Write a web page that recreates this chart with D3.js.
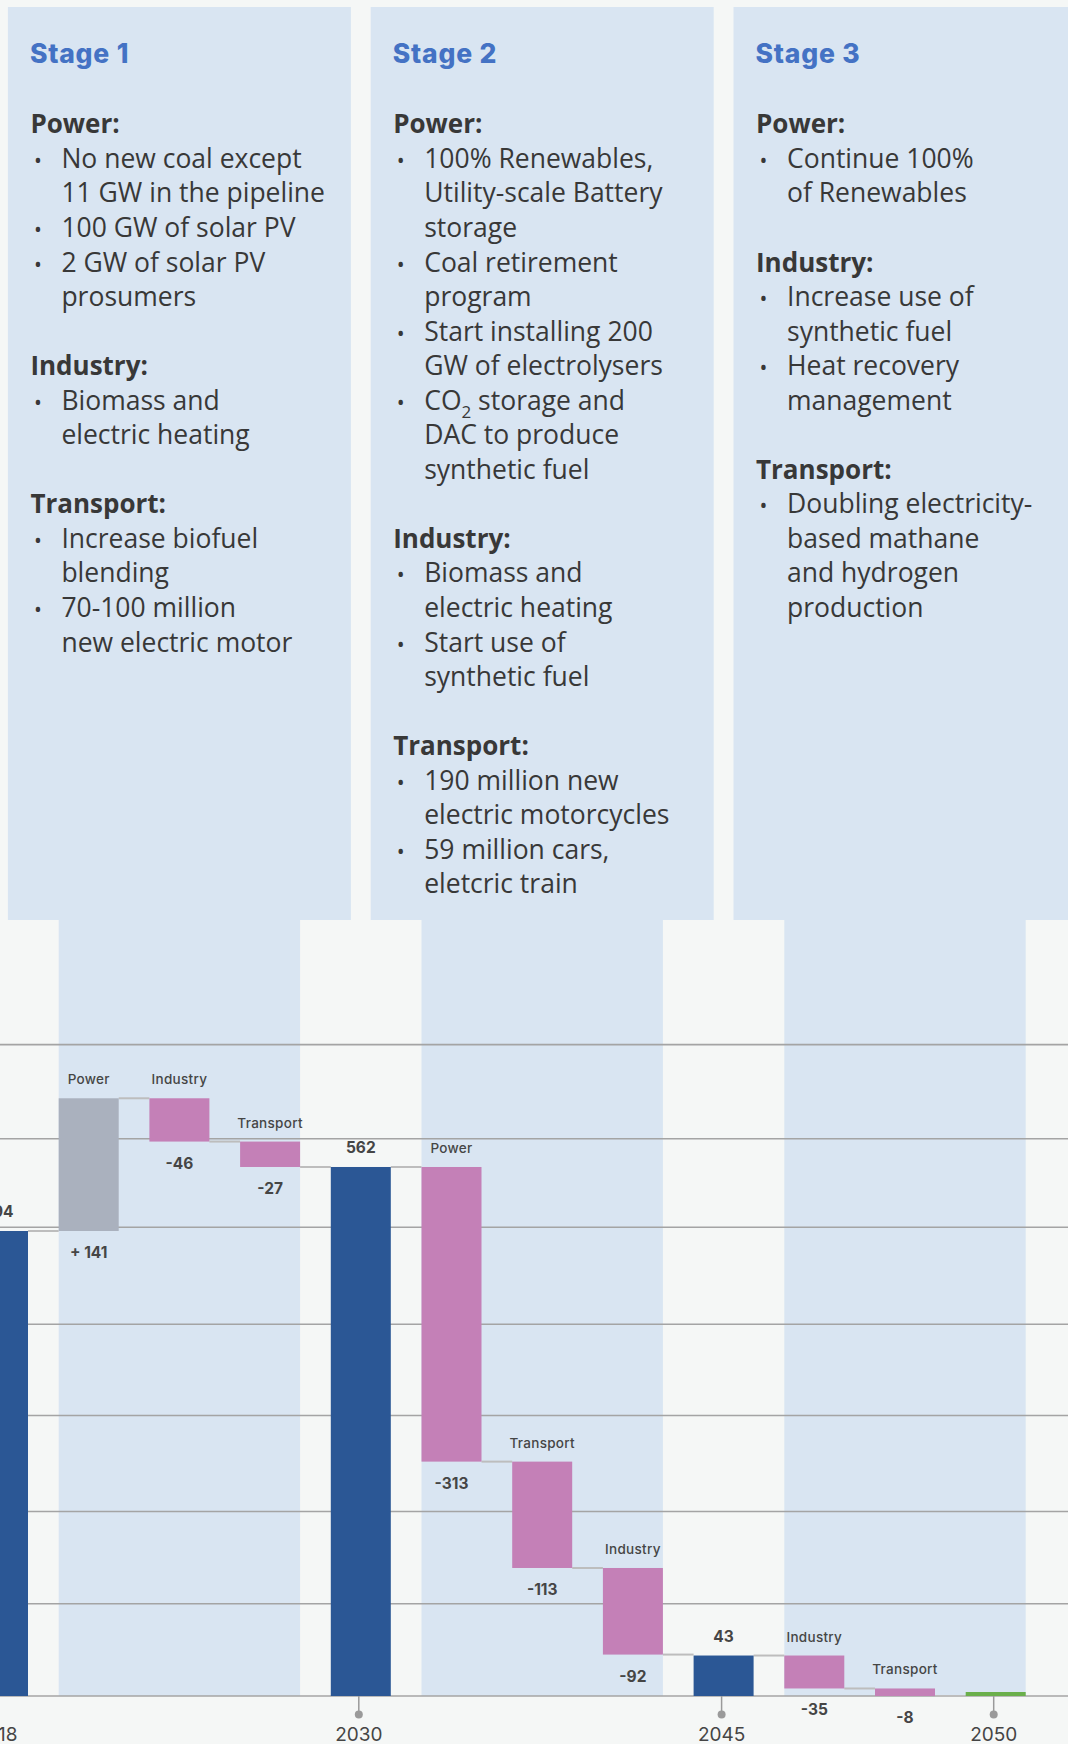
<!DOCTYPE html>
<html><head><meta charset="utf-8">
<script src="https://cdn.jsdelivr.net/npm/d3@7"></script>
<style>
html,body{margin:0;padding:0;background:#f5f7f6;}
svg{display:block;}
</style></head><body>
<svg id="chart" width="1068" height="1744"></svg>
<script>
// ---------- DATA ----------
const stepIds     = ["2018","P1","I1","T1","2030","P2","T2","I2","2045","I3","T3","2050"];
const stepLabels  = ["2018","Power","Industry","Transport","2030","Power","Transport","Industry","2045","Industry","Transport","2050"];
const stepValues  = [494, 141, -46, -27, 562, -313, -113, -92, 43, -35, -8, 0];
const stepKinds   = ["total","delta","delta","delta","total","delta","delta","delta","total","delta","delta","total"];
const valueLabels = ["494","+ 141","-46","-27","562","-313","-113","-92","43","-35","-8",""];
const gridValues  = [98, 196, 298, 395, 498, 592, 692];
const stageNames  = ["Stage 1","Stage 2","Stage 3"];
const stageSpans  = [["P1","T1"],["P2","I2"],["I3","2050"]];
// h = heading, b = bullet line, c = continuation line, "" = blank
const stage1Text = [
  ["h","Power:"],["b","No new coal except"],["c","11 GW in the pipeline"],["b","100 GW of solar PV"],
  ["b","2 GW of solar PV"],["c","prosumers"],["",""],
  ["h","Industry:"],["b","Biomass and"],["c","electric heating"],["",""],
  ["h","Transport:"],["b","Increase biofuel"],["c","blending"],["b","70-100 million"],["c","new electric motor"]
];
const stage2Text = [
  ["h","Power:"],["b","100% Renewables,"],["c","Utility-scale Battery"],["c","storage"],
  ["b","Coal retirement"],["c","program"],["b","Start installing 200"],["c","GW of electrolysers"],
  ["b","CO|2| storage and"],["c","DAC to produce"],["c","synthetic fuel"],["",""],
  ["h","Industry:"],["b","Biomass and"],["c","electric heating"],["b","Start use of"],["c","synthetic fuel"],["",""],
  ["h","Transport:"],["b","190 million new"],["c","electric motorcycles"],["b","59 million cars,"],["c","eletcric train"]
];
const stage3Text = [
  ["h","Power:"],["b","Continue 100%"],["c","of Renewables"],["",""],
  ["h","Industry:"],["b","Increase use of"],["c","synthetic fuel"],["b","Heat recovery"],["c","management"],["",""],
  ["h","Transport:"],["b","Doubling electricity-"],["c","based mathane"],["c","and hydrogen"],["c","production"]
];
const stageTexts = [stage1Text, stage2Text, stage3Text];

// ---------- STYLE ----------
const W = 1068, H = 1744;
const C = {
  bg:"#f5f7f6", panel:"#d9e5f2", head:"#4472c4", text:"#383838", lab:"#454545",
  total:"#2b5795", up:"#aab1be", down:"#c480b7", zero:"#6aaf4b", grid:"#a4a4a4", conn:"#bdbdbd"
};
const baseY = 1696, pxPerUnit = 0.9413;

const svg = d3.select("#chart").attr("viewBox",`0 0 ${W} ${H}`);
svg.append("rect").attr("width",W).attr("height",H).attr("fill",C.bg);

const x = d3.scaleBand().domain(stepIds).range([-32, -32 + 11*90.7 + 60]).paddingInner(0.3385).paddingOuter(0);
const bw = x.bandwidth();
const y = d3.scaleLinear().domain([0, 700]).range([baseY, baseY - 700*pxPerUnit]);

// running totals
let run = 0;
const bars = stepIds.map((id,i)=>{
  const k = stepKinds[i], v = stepValues[i];
  let a, b;
  if (k === "total") { a = 0; b = v; run = v; }
  else { a = run; b = run + v; run = b; }
  return {id, i, kind:k, v, lo:Math.min(a,b), hi:Math.max(a,b), end:run, label:stepLabels[i], vl:valueLabels[i]};
});

// ---------- STAGE PANELS + COLUMNS ----------
const panelW = 343, panelTop = 7, panelBottom = 920;
const gPanels = svg.append("g");
stageSpans.forEach((sp,si)=>{
  const x0 = x(sp[0]), x1 = x(sp[1]) + bw, cx = (x0+x1)/2;
  const px = cx - panelW/2;
  gPanels.append("rect").attr("x",px).attr("y",panelTop).attr("width",panelW).attr("height",panelBottom-panelTop).attr("fill",C.panel);
  gPanels.append("rect").attr("x",x0).attr("y",panelBottom-1).attr("width",x1-x0).attr("height",baseY-panelBottom+1).attr("fill",C.panel);
  const tx = px + 23;
  gPanels.append("text").attr("x",tx-1).attr("y",63.3).text(stageNames[si])
    .attr("font-family","Inter, 'Open Sans', sans-serif").attr("font-weight",800).attr("font-size",26.5)
    .attr("letter-spacing",0.8).attr("fill",C.head);
  stageTexts[si].forEach((ln,li)=>{
    const yy = 133.3 + li*34.55;
    const [t, s] = ln;
    if (!t) return;
    if (t === "h") {
      gPanels.append("text").attr("x",tx-0.5).attr("y",yy).text(s)
        .attr("font-family","'Open Sans', sans-serif").attr("font-weight",700).attr("font-size",26).attr("fill",C.text);
      return;
    }
    if (t === "b") {
      gPanels.append("text").attr("x",tx+3).attr("y",yy).text("•")
        .attr("font-family","'Open Sans', sans-serif").attr("font-size",21).attr("fill",C.text);
    }
    const te = gPanels.append("text").attr("x",tx+30.5).attr("y",yy)
      .attr("font-family","'Open Sans', sans-serif").attr("font-size",26.5).attr("fill",C.text);
    if (s.includes("|")) {
      const parts = s.split("|");
      te.append("tspan").text(parts[0]);
      te.append("tspan").text(parts[1]).attr("font-size",17).attr("dy",8);
      te.append("tspan").text(parts[2]).attr("dy",-8);
    } else te.text(s);
  });
});

// ---------- GRID ----------
const gGrid = svg.append("g");
gGrid.selectAll("line").data(gridValues.concat([0])).join("line")
  .attr("x1",0).attr("x2",W).attr("y1",d=>y(d)).attr("y2",d=>y(d))
  .attr("stroke",C.grid).attr("stroke-width",1.6);

// ---------- CONNECTORS ----------
const gConn = svg.append("g");
bars.slice(0,-1).forEach((b,i)=>{
  const nx = bars[i+1];
  gConn.append("line").attr("x1",x(b.id)+bw).attr("x2",x(nx.id))
    .attr("y1",y(b.end)).attr("y2",y(b.end)).attr("stroke",C.conn).attr("stroke-width",2);
});

// ---------- BARS ----------
const colorOf = b => b.kind==="total" ? (b.v===0 ? C.zero : C.total) : (b.v>0 ? C.up : C.down);
svg.append("g").selectAll("rect").data(bars).join("rect")
  .attr("x",d=>x(d.id)).attr("width",bw)
  .attr("y",d=> d.kind==="total" && d.v===0 ? y(0)-4 : y(d.hi))
  .attr("height",d=> d.kind==="total" && d.v===0 ? 4 : y(d.lo)-y(d.hi))
  .attr("fill",colorOf);

// ---------- LABELS ----------
const gLab = svg.append("g").attr("text-anchor","middle").attr("font-family","Inter, Montserrat, sans-serif");
bars.forEach(b=>{
  const cx = x(b.id) + bw/2;
  if (b.kind==="delta") {
    gLab.append("text").attr("x",cx).attr("y",y(b.hi)-14).text(b.label)
      .attr("font-size",13.5).attr("font-weight",500).attr("letter-spacing",0.3).attr("fill",C.lab);
    gLab.append("text").attr("x",cx).attr("y",y(b.lo)+27).text(b.vl)
      .attr("font-size",15.5).attr("font-weight",700).attr("fill",C.lab);
  } else if (b.vl) {
    gLab.append("text").attr("x",cx).attr("y",y(b.hi)-14).text(b.vl)
      .attr("font-size",15.5).attr("font-weight",700).attr("fill",C.lab);
  }
});

// ---------- X AXIS (totals) ----------
const gAx = svg.append("g").attr("font-family","Inter, Montserrat, sans-serif");
bars.filter(b=>b.kind==="total").forEach(b=>{
  const cx = x(b.id) + bw/2 - 2;
  gAx.append("line").attr("x1",cx).attr("x2",cx).attr("y1",baseY).attr("y2",baseY+18)
    .attr("stroke","#9a9a9a").attr("stroke-width",1.5);
  gAx.append("circle").attr("cx",cx).attr("cy",baseY+18.5).attr("r",4).attr("fill","#9a9a9a");
  gAx.append("text").attr("x",cx).attr("y",baseY+45).attr("text-anchor","middle").text(b.label)
    .attr("font-size",19).attr("font-weight",400).attr("fill",C.lab);
});
</script>
</body></html>
